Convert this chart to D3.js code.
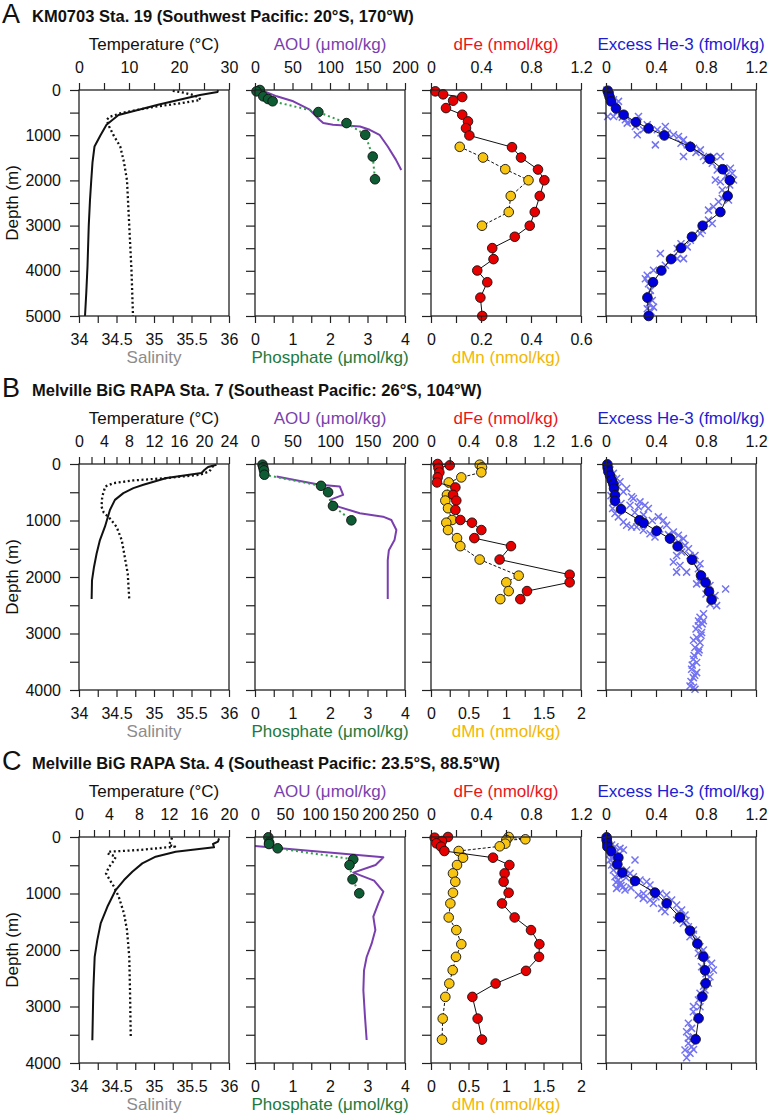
<!DOCTYPE html>
<html><head><meta charset="utf-8">
<script src="https://cdnjs.cloudflare.com/ajax/libs/d3/7.8.5/d3.min.js"></script>
<style>body{margin:0;background:#fff} svg text{font-family:"Liberation Sans",Arial,Helvetica,sans-serif}</style>
</head><body><svg id="c" width="768" height="1117"></svg>
<script>
// ---------- text ----------
const letters = ["A", "B", "C"];
const titles = [
  "KM0703 Sta. 19 (Southwest Pacific: 20°S, 170°W)",
  "Melville BiG RAPA Sta. 7 (Southeast Pacific: 26°S, 104°W)",
  "Melville BiG RAPA Sta. 4 (Southeast Pacific: 23.5°S, 88.5°W)"
];
// ---------- tick labels ----------
const depthLabelsA = [0, 1000, 2000, 3000, 4000, 5000];
const depthLabelsBC = [0, 1000, 2000, 3000, 4000];
const tempLabelsA = [0, 10, 20, 30];
const tempLabelsB = [0, 4, 8, 12, 16, 20, 24];
const tempLabelsC = [0, 4, 8, 12, 16, 20];
const salLabels = [34, 34.5, 35, 35.5, 36];
const aouLabelsAB = [0, 50, 100, 150, 200];
const aouLabelsC = [0, 50, 100, 150, 200, 250];
const po4Labels = [0, 1, 2, 3, 4];
const dfeLabelsAC = [0, 0.4, 0.8, 1.2];
const dfeLabelsB = [0, 0.4, 0.8, 1.2, 1.6];
const dmnLabelsA = [0, 0.2, 0.4, 0.6];
const dmnLabelsBC = [0, 0.5, 1, 1.5, 2];
const heLabels = [0, 0.4, 0.8, 1.2];

// ---------- data: [value, depth m] ----------
const tempA = [[27.8,0],[27.7,45],[24.2,110],[16,320],[7.9,553],[5.5,770],[4.3,1000],[3.1,1250],[2.7,1600],[2.45,2000],[2.2,2430],[1.95,3000],[1.7,3900],[1.45,4500],[1.2,5000]];
const salA = [[35.25,20],[35.4,60],[35.52,110],[35.6,170],[35.62,220],[35.35,295],[35.01,369],[34.75,450],[34.55,516],[34.4,600],[34.37,664],[34.4,800],[34.46,1000],[34.55,1250],[34.6,1600],[34.64,2000],[34.67,3000],[34.7,4000],[34.72,5000]];
const aouA = [[11,20],[29,140],[51,250],[73,436],[86,658],[91,732],[104,770],[140,806],[153,880],[166,991],[177,1250],[188,1546],[195,1768]];
const po4A = [[0.13,0],[0.04,30],[0.22,140],[0.35,200],[0.47,250],[1.69,488],[2.44,732],[2.94,991],[3.14,1472],[3.2,1975]];
const dfeA = [[0.035,30],[0.097,96],[0.25,155],[0.177,237],[0.12,400],[0.25,547],[0.296,695],[0.28,843],[0.307,1006],[0.648,1265],[0.72,1494],[0.856,1760],[0.907,1997],[0.87,2345],[0.83,2700],[0.79,3003],[0.67,3247],[0.49,3498],[0.5,3742],[0.37,3994],[0.45,4253],[0.395,4593],[0.41,5000]];
const dmnA = [[0.115,1257],[0.208,1494],[0.297,1753],[0.39,1997],[0.319,2345],[0.311,2700],[0.204,3003]];
const heA = [[0.013,15],[0.021,81],[0.029,155],[0.04,251],[0.08,407],[0.141,547],[0.24,710],[0.341,850],[0.467,1006],[0.675,1257],[0.83,1523],[0.933,1753],[0.99,1997],[0.973,2345],[0.915,2700],[0.773,3003],[0.688,3247],[0.6,3498],[0.52,3742],[0.443,3994],[0.376,4253],[0.331,4593],[0.341,5000]];
const heXA = [[0.008,0],[0.02,30],[0.035,104],[0.06,215],[0.1,252],[0.013,585],[0.06,585],[0.115,548],[0.155,659],[0.17,733],[0.26,585],[0.235,807],[0.25,992],[0.33,770],[0.41,881],[0.475,807],[0.395,1214],[0.49,955],[0.54,992],[0.58,1029],[0.62,1103],[0.65,1214],[0.62,1473],[0.7,1288],[0.755,1325],[0.78,1473],[0.86,1473],[0.915,1473],[0.85,1621],[0.89,1769],[0.94,1732],[0.995,1732],[1.01,1843],[0.875,1991],[0.915,2028],[1.02,1991],[0.93,2213],[0.955,2287],[0.98,2435],[0.9,2472],[0.86,2583],[0.82,2657],[0.82,2879],[0.85,2953],[0.755,3175],[0.77,3101],[0.675,3323],[0.65,3471],[0.57,3508],[0.435,3619],[0.54,3693],[0.57,3730],[0.62,3730],[0.475,3878],[0.38,3989],[0.33,4100],[0.315,4174],[0.34,4285],[0.355,4433],[0.37,4655],[0.34,4729],[0.33,4840],[0.38,4803],[0.09,470],[0.13,600],[0.2,700],[0.3,880],[0.44,950],[0.6,1180],[0.72,1380],[0.8,1560],[0.96,1900],[0.99,2100],[0.93,2400],[0.78,3000],[0.6,3400],[0.35,4550],[0.36,4900]];

const tempB = [[22.0,12],[20.65,53],[20.1,101],[19.6,160],[14.0,249],[10.3,368],[8.7,427],[7.1,516],[5.75,635],[4.95,813],[4.15,1110],[3.35,1347],[2.82,1585],[2.4,1822],[2.08,2059],[2.02,2390]];
const salB = [[35.79,30],[35.74,130],[35.61,190],[35.17,249],[34.72,291],[34.46,338],[34.35,398],[34.31,576],[34.3,754],[34.33,861],[34.41,961],[34.5,1110],[34.57,1347],[34.61,1644],[34.65,1941],[34.67,2390]];
const aouB = [[28.8,220],[60,300],[86.5,368],[113,398],[117.5,546],[99.8,635],[110.9,754],[139.7,872],[170.7,932],[181.8,991],[188.5,1169],[186,1347],[178.5,1525],[177,1703],[177,2390]];
const po4B = [[0.2,12],[0.22,59],[0.24,113],[0.25,190],[1.76,386],[1.95,499],[2.08,742],[2.57,997]];
const dfeB = [[0.071,0],[0.2,24],[0.08,71],[0.089,148],[0.071,237],[0.064,326],[0.26,415],[0.235,546],[0.27,647],[0.26,813],[0.313,991],[0.437,1039],[0.537,1169],[0.462,1312],[0.853,1454],[0.732,1691],[1.479,1959],[1.479,2095],[1.024,2249],[0.953,2392]];
const dmnB = [[0.649,12],[0.68,59],[0.671,148],[0.404,237],[0.236,326],[0.213,546],[0.191,647],[0.227,783],[0.28,991],[0.204,1039],[0.227,1169],[0.347,1312],[0.391,1454],[0.649,1691],[1.169,1976],[1.004,2095],[1.036,2249],[0.924,2392]];
const heB = [[0.011,6],[0.013,65],[0.019,136],[0.032,207],[0.045,284],[0.059,356],[0.064,433],[0.072,551],[0.072,652],[0.12,800],[0.267,996],[0.301,1043],[0.405,1185],[0.512,1321],[0.573,1458],[0.688,1695],[0.76,1973],[0.797,2098],[0.824,2258],[0.845,2400]];
const heXB = [[0.019,47],[0.032,107],[0.059,166],[0.085,255],[0.112,314],[0.099,403],[0.139,492],[0.165,433],[0.205,581],[0.219,610],[0.272,670],[0.312,729],[0.339,788],[0.259,758],[0.192,729],[0.059,670],[0.053,788],[0.072,877],[0.099,936],[0.139,1025],[0.165,1084],[0.205,1114],[0.245,1114],[0.299,1173],[0.352,1233],[0.392,1292],[0.419,936],[0.459,996],[0.485,1084],[0.539,1203],[0.579,1262],[0.619,1321],[0.632,1440],[0.605,1559],[0.565,1618],[0.539,1736],[0.592,1796],[0.645,1914],[0.565,1914],[0.672,1618],[0.712,1618],[0.752,1766],[0.739,1855],[0.752,2092],[0.725,2122],[0.792,2062],[0.832,2151],[0.872,2329],[0.885,2507],[0.832,2477],[0.957,2211],[0.752,2714],[0.779,2773],[0.739,2862],[0.765,2981],[0.725,3070],[0.752,3159],[0.712,3247],[0.739,3336],[0.699,3455],[0.725,3514],[0.685,3633],[0.725,3692],[0.699,3781],[0.672,3929],[0.712,3988],[0.77,2830],[0.72,2920],[0.76,3030],[0.7,3120],[0.745,3290],[0.705,3390],[0.69,3560],[0.71,3740],[0.68,3850],[0.7,3950],[0.04,560],[0.08,620],[0.12,700],[0.23,860],[0.3,900],[0.37,1000],[0.43,1150],[0.5,1250],[0.58,1380],[0.66,1500],[0.7,1700],[0.8,2300],[0.85,2420],[0.78,2650],[0.74,2780]];

const tempC = [[18.67,24],[18.53,83],[17.87,124],[18.0,183],[12.89,260],[10.22,349],[8.44,467],[7.11,614],[6.0,762],[4.89,939],[3.78,1235],[2.89,1530],[2.44,1826],[2.09,2121],[1.91,2712],[1.78,3598]];
const salC = [[35.24,12],[35.22,83],[35.2,142],[35.28,171],[34.8,230],[34.4,260],[34.38,290],[34.49,349],[34.47,408],[34.4,530],[34.36,644],[34.41,760],[34.47,886],[34.53,1058],[34.6,1353],[34.64,1648],[34.67,2121],[34.68,2712],[34.69,3539]];
const aouC = [[0,159],[213.9,360],[201,496],[163.9,631],[198.5,773],[213.9,968],[205.6,1174],[197.2,1410],[200.6,1646],[194.4,1888],[186.1,2124],[181.7,2360],[180.6,2713],[183.3,3180],[186.1,3593]];
const po4C = [[0.356,6],[0.38,100],[0.373,124],[0.604,200],[2.62,395],[2.52,496],[2.6,749],[2.78,997]];
const dfeC = [[0.136,0],[0.029,12],[0.088,71],[0.043,112],[0.08,171],[0.107,248],[0.496,366],[0.627,496],[0.589,644],[0.581,792],[0.621,987],[0.568,1176],[0.669,1424],[0.8,1648],[0.867,1897],[0.864,2121],[0.76,2369],[0.517,2594],[0.331,2830],[0.373,3214],[0.408,3586]];
const dmnC = [[1.036,0],[1.258,41],[1.004,53],[0.991,118],[0.916,165],[0.369,248],[0.427,366],[0.347,496],[0.293,644],[0.324,792],[0.293,987],[0.258,1176],[0.236,1424],[0.338,1648],[0.404,1897],[0.333,2121],[0.289,2357],[0.244,2594],[0.191,2830],[0.156,3214],[0.147,3586]];
const heC = [[0.005,6],[0.005,53],[0.011,112],[0.011,171],[0.04,248],[0.099,366],[0.091,484],[0.131,631],[0.232,779],[0.392,985],[0.485,1174],[0.592,1422],[0.672,1658],[0.731,1888],[0.779,2118],[0.792,2360],[0.797,2590],[0.771,2826],[0.741,3210],[0.717,3581]];
const heXC = [[0.019,83],[0.045,142],[0.072,171],[0.112,201],[0.139,230],[0.085,260],[0.059,319],[0.032,407],[0.045,496],[0.059,584],[0.072,702],[0.099,761],[0.112,820],[0.139,879],[0.152,938],[0.085,909],[0.125,643],[0.165,584],[0.192,643],[0.232,407],[0.219,702],[0.272,761],[0.325,791],[0.352,850],[0.259,1027],[0.299,1086],[0.352,1115],[0.379,1174],[0.445,1263],[0.472,1322],[0.432,997],[0.485,1027],[0.525,1115],[0.565,1204],[0.605,1292],[0.632,1381],[0.565,1469],[0.619,1528],[0.659,1587],[0.699,1646],[0.672,1764],[0.725,1823],[0.752,1941],[0.779,2000],[0.739,2059],[0.805,2177],[0.845,2236],[0.859,2354],[0.765,2295],[0.832,2472],[0.819,2590],[0.792,2708],[0.752,2767],[0.739,2885],[0.752,3003],[0.699,3092],[0.725,3180],[0.659,3298],[0.685,3387],[0.645,3446],[0.699,3534],[0.659,3652],[0.685,3711],[0.632,3770],[0.672,3829],[0.645,3906],[0.06,450],[0.09,540],[0.1,680],[0.16,720],[0.3,1000],[0.4,1060],[0.03,300],[0.05,380],[0.08,800],[0.12,860],[0.2,900],[0.36,960],[0.5,1200],[0.58,1330],[0.64,1480],[0.7,1720],[0.76,2100],[0.8,2420],[0.78,2640],[0.7,3000],[0.66,3560],[0.7,3760]];

// ---------- build rows ----------
const rows = [
  {letter: letters[0], title: titles[0], depth: depthLabelsA, temp: tempLabelsA, aou: aouLabelsAB, dfe: dfeLabelsAC, dmn: dmnLabelsA,
   T: tempA, S: salA, AOU: aouA, P: po4A, FE: dfeA, MN: dmnA, HE: heA, HX: heXA},
  {letter: letters[1], title: titles[1], depth: depthLabelsBC, temp: tempLabelsB, aou: aouLabelsAB, dfe: dfeLabelsB, dmn: dmnLabelsBC,
   T: tempB, S: salB, AOU: aouB, P: po4B, FE: dfeB, MN: dmnB, HE: heB, HX: heXB},
  {letter: letters[2], title: titles[2], depth: depthLabelsBC, temp: tempLabelsC, aou: aouLabelsC, dfe: dfeLabelsAC, dmn: dmnLabelsBC,
   T: tempC, S: salC, AOU: aouC, P: po4C, FE: dfeC, MN: dmnC, HE: heC, HX: heXC}
];

// ---------- layout ----------
const svg = d3.select("#c");
const PW = 150, PH = 226;
const panelX = [79, 255, 431, 606];
const rowTop = [90, 464, 837];
const C = {
  sal: "#8c8c8c", aou: "#7a3fae", po4Text: "#1d7a3e", po4Fill: "#0d5c33", po4Line: "#2f9e48",
  fe: "#e8161b", feFill: "#e60000", mn: "#f2b705", mnFill: "#f7c411", he: "#1d1dd4", heFill: "#0000dc", heX: "#7272f2"
};
const TICK_FS = "16px", LABEL_FS = 17;

function withMinor(labels) {
  const t = [];
  labels.forEach((v, i) => { t.push(v); if (i < labels.length - 1) t.push((v + labels[i + 1]) / 2); });
  return t;
}
function styleAxis(g) {
  g.select(".domain").remove();
  g.selectAll(".tick line").attr("stroke", "#222").attr("stroke-width", 1.2);
  g.selectAll(".tick text").attr("fill", "#111").style("font-size", TICK_FS)
    .style("font-family", '"Liberation Sans",Arial,sans-serif');
}
function topAxis(g, x, labels, top, showLabels) {
  const ax = d3.axisTop(x).tickValues(withMinor(labels)).tickSize(7).tickPadding(10)
    .tickFormat((d, i) => (showLabels && i % 2 === 0) ? String(d) : "");
  g.append("g").attr("transform", `translate(0,${top})`).call(ax).call(styleAxis);
}
function bottomAxis(g, x, labels, bottom, showLabels) {
  const ax = d3.axisBottom(x).tickValues(withMinor(labels)).tickSize(7).tickPadding(11)
    .tickFormat((d, i) => (showLabels && i % 2 === 0) ? String(d) : "");
  g.append("g").attr("transform", `translate(0,${bottom})`).call(ax).call(styleAxis);
}
function leftAxis(g, y, labels, x0, showLabels) {
  const ax = d3.axisLeft(y).tickValues(withMinor(labels)).tickSize(9).tickPadding(9)
    .tickFormat((d, i) => (showLabels && i % 2 === 0) ? String(d) : "");
  g.append("g").attr("transform", `translate(${x0},0)`).call(ax).call(styleAxis);
}
function frame(g, x0, top) {
  g.append("rect").attr("x", x0).attr("y", top).attr("width", PW).attr("height", PH)
    .attr("fill", "none").attr("stroke", "#222").attr("stroke-width", 1.3);
}
function label(g, x, y, txt, color) {
  g.append("text").attr("x", x).attr("y", y).attr("text-anchor", "middle")
    .attr("fill", color).style("font-size", LABEL_FS + "px").text(txt);
}
function pathLine(g, data, x, y, color, width, dash) {
  const line = d3.line().x(d => x(d[0])).y(d => y(d[1]));
  const p = g.append("path").datum(data).attr("d", line).attr("fill", "none")
    .attr("stroke", color).attr("stroke-width", width).attr("stroke-linejoin", "round");
  if (dash) p.attr("stroke-dasharray", dash);
}
function dots(g, data, x, y, fill) {
  g.selectAll(null).data(data).enter().append("circle")
    .attr("cx", d => x(d[0])).attr("cy", d => y(d[1])).attr("r", 4.8)
    .attr("fill", fill).attr("stroke", "#111").attr("stroke-width", 0.9);
}
function crosses(g, data, x, y, color) {
  const s = 3.5;
  g.selectAll(null).data(data).enter().append("path")
    .attr("d", d => { const cx = x(d[0]), cy = y(d[1]);
      return `M${cx - s},${cy - s}L${cx + s},${cy + s}M${cx - s},${cy + s}L${cx + s},${cy - s}`; })
    .attr("stroke", color).attr("stroke-width", 1.5).attr("fill", "none");
}

rows.forEach((r, ri) => {
  const top = rowTop[ri], bottom = top + PH, oy = top - 90;
  const g = svg.append("g");
  g.append("text").attr("x", 2).attr("y", oy + 23).style("font-size", "27px").attr("fill", "#111").text(r.letter);
  g.append("text").attr("x", 32).attr("y", oy + 22).style("font-size", "16.5px").style("font-weight", "bold")
    .attr("fill", "#111").text(r.title);
  const depthMax = r.depth[r.depth.length - 1];
  const y = d3.scaleLinear().domain([0, depthMax]).range([top, bottom]);
  g.append("text").attr("transform", `translate(18,${top + PH / 2}) rotate(-90)`).attr("text-anchor", "middle")
    .style("font-size", LABEL_FS + "px").attr("fill", "#111").text("Depth (m)");

  // panel 1: temperature / salinity
  {
    const x0 = panelX[0];
    const xt = d3.scaleLinear().domain([r.temp[0], r.temp[r.temp.length - 1]]).range([x0, x0 + PW]);
    const xs = d3.scaleLinear().domain([salLabels[0], salLabels[salLabels.length - 1]]).range([x0, x0 + PW]);
    pathLine(g, r.S, xs, y, "#111", 2.3, "2,2.6");
    pathLine(g, r.T, xt, y, "#111", 2);
    frame(g, x0, top);
    topAxis(g, xt, r.temp, top, true);
    bottomAxis(g, xs, salLabels, bottom, true);
    leftAxis(g, y, r.depth, x0, true);
    label(g, x0 + PW / 2, oy + 50, "Temperature (°C)", "#111");
    label(g, x0 + PW / 2, bottom + 47, "Salinity", C.sal);
  }
  // panel 2: AOU / phosphate
  {
    const x0 = panelX[1];
    const xa = d3.scaleLinear().domain([r.aou[0], r.aou[r.aou.length - 1]]).range([x0, x0 + PW]);
    const xp = d3.scaleLinear().domain([po4Labels[0], po4Labels[po4Labels.length - 1]]).range([x0, x0 + PW]);
    pathLine(g, r.AOU, xa, y, C.aou, 2);
    pathLine(g, r.P, xp, y, C.po4Line, 2, "2,3");
    dots(g, r.P, xp, y, C.po4Fill);
    frame(g, x0, top);
    topAxis(g, xa, r.aou, top, true);
    bottomAxis(g, xp, po4Labels, bottom, true);
    leftAxis(g, y, r.depth, x0, false);
    label(g, x0 + PW / 2, oy + 50, "AOU (μmol/kg)", C.aou);
    label(g, x0 + PW / 2, bottom + 47, "Phosphate (μmol/kg)", C.po4Text);
  }
  // panel 3: dFe / dMn
  {
    const x0 = panelX[2];
    const xf = d3.scaleLinear().domain([r.dfe[0], r.dfe[r.dfe.length - 1]]).range([x0, x0 + PW]);
    const xm = d3.scaleLinear().domain([r.dmn[0], r.dmn[r.dmn.length - 1]]).range([x0, x0 + PW]);
    pathLine(g, r.MN, xm, y, "#111", 1, "3,2");
    dots(g, r.MN, xm, y, C.mnFill);
    pathLine(g, r.FE, xf, y, "#111", 1);
    dots(g, r.FE, xf, y, C.feFill);
    frame(g, x0, top);
    topAxis(g, xf, r.dfe, top, true);
    bottomAxis(g, xm, r.dmn, bottom, true);
    leftAxis(g, y, r.depth, x0, false);
    label(g, x0 + PW / 2, oy + 50, "dFe (nmol/kg)", C.fe);
    label(g, x0 + PW / 2, bottom + 47, "dMn (nmol/kg)", C.mn);
  }
  // panel 4: excess He-3
  {
    const x0 = panelX[3];
    const xh = d3.scaleLinear().domain([heLabels[0], heLabels[heLabels.length - 1]]).range([x0, x0 + PW]);
    crosses(g, r.HX, xh, y, C.heX);
    pathLine(g, r.HE, xh, y, "#111", 1);
    dots(g, r.HE, xh, y, C.heFill);
    frame(g, x0, top);
    topAxis(g, xh, heLabels, top, true);
    bottomAxis(g, xh, heLabels, bottom, false);
    leftAxis(g, y, r.depth, x0, false);
    label(g, x0 + PW / 2, oy + 50, "Excess He-3 (fmol/kg)", C.he);
  }
});
</script></body></html>
